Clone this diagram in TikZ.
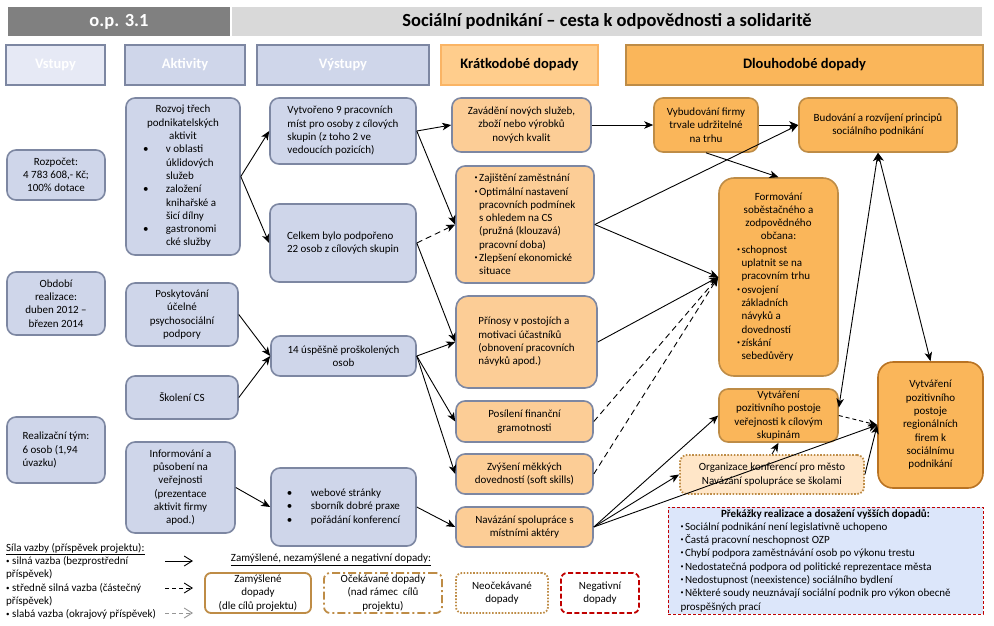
\documentclass[tikz,border=0pt]{standalone}
\usepackage{fontspec}
\setmainfont{Carlito}
\usetikzlibrary{arrows.meta}
\definecolor{bfill}{RGB}{207,214,234}
\definecolor{bdraw}{RGB}{125,135,162}
\definecolor{hfill}{RGB}{230,233,245}
\definecolor{sfill}{RGB}{252,205,150}
\definecolor{lfill}{RGB}{250,182,90}
\definecolor{ldraw}{RGB}{190,140,70}
\definecolor{fdraw}{RGB}{185,115,35}
\definecolor{ofill}{RGB}{255,230,200}
\definecolor{kfill}{RGB}{255,205,140}
\definecolor{kdraw}{RGB}{250,180,100}
\definecolor{pfill}{RGB}{220,230,250}
\definecolor{pdraw}{RGB}{192,0,0}
\definecolor{gdark}{RGB}{128,128,128}
\definecolor{glight}{RGB}{217,217,217}
\definecolor{lgray}{RGB}{150,150,150}
\newcommand\bx[7]{\node[#1,minimum width={#5-#3},minimum height={#6-#4}] (#2) at ({(#3+#5)/2},{(#4+#6)/2}) {#7};}
\newcommand\smb{\makebox[4.5pt][l]{\raisebox{2pt}{\fontsize{6}{6}\selectfont•}}}
\newcommand\smi{\hspace*{4.5pt}}
\newcommand\lgb{\makebox[6pt][l]{\raisebox{1pt}{\fontsize{7}{7}\selectfont•}}}
\begin{document}
\begin{tikzpicture}[x=1pt,y=-1pt,font=\fontsize{11}{13.3}\selectfont,
  base/.style={inner sep=1pt,align=center},
  hdr/.style={base,line width=1.6pt,font=\bfseries\fontsize{14.5}{17}\selectfont},
  bbox/.style={base,draw=bdraw,fill=bfill,line width=1.6pt,rounded corners=9pt},
  sbox/.style={base,draw=bdraw,fill=sfill,line width=1.6pt,rounded corners=9pt},
  lbox/.style={base,draw=ldraw,fill=lfill,line width=1.6pt,rounded corners=9pt},
  obox/.style={base,draw=ldraw,fill=ofill,line width=1.8pt,rounded corners=7pt,dash pattern=on 1.6pt off 1.6pt},
  pbox/.style={base,draw=pdraw,fill=pfill,line width=0.9pt,dash pattern=on 3pt off 2pt},
  lgbox/.style={base,draw=ldraw,fill=white,line width=1.8pt,rounded corners=6pt},
  conn/.style={line width=0.9pt,-{Stealth[length=9pt,width=7.5pt,inset=2.5pt]}},
  dconn/.style={conn,dash pattern=on 6pt off 4pt},
  biconn/.style={line width=0.9pt,{Stealth[length=9pt,width=7.5pt,inset=2.5pt]}-{Stealth[length=9pt,width=7.5pt,inset=2.5pt]}},
  legarr/.style={line width=0.9pt,-{Straight Barb[length=8pt,width=10pt]}}]
\useasboundingbox (0,0) rectangle (994,625);
% title band
\bx{inner sep=0,fill=gdark,text=white,font=\bfseries\fontsize{18.5}{20}\selectfont}{op}{8}{7}{230}{36}{o.p. 3.1}
\bx{inner sep=0,fill=glight,font=\bfseries\fontsize{18.5}{20}\selectfont}{title}{232}{7}{982}{36}{Sociální podnikání – cesta k odpovědnosti a solidaritě}
% column headers
\bx{hdr,draw=bdraw,fill=hfill,text=white}{hvst}{6}{45}{105}{85}{Vstupy}
\bx{hdr,draw=bdraw,fill=bfill,text=white}{hakt}{125}{45}{245}{85}{Aktivity}
\bx{hdr,draw=bdraw,fill=bfill,text=white}{hvys}{257}{45}{429}{85}{Výstupy}
\bx{hdr,draw=kdraw,fill=kfill}{hkrat}{441}{45}{598}{85}{Krátkodobé dopady}
\bx{hdr,draw=ldraw,fill=lfill}{hdlou}{626}{45}{983}{85}{Dlouhodobé dopady}
% inputs
\bx{bbox}{rozp}{7}{150}{105}{200}{Rozpočet:\\4 783 608,- Kč;\\100\% dotace}
\bx{bbox}{obd}{7}{272}{105}{335}{Období\\realizace:\\duben 2012 –\\březen 2014}
\bx{bbox,align=left}{tym}{7}{417}{105}{483}{Realizační tým:\\6 osob (1,94\\úvazku)}
% activities
\bx{bbox}{rozvoj}{126}{98}{240}{255}{\parbox{80pt}{\centering Rozvoj třech\\podnikatelských\\aktivit\par\raggedright\makebox[23pt][l]{•}v oblasti\\\hspace*{23pt}úklidových\\\hspace*{23pt}služeb\\\makebox[23pt][l]{•}založení\\\hspace*{23pt}knihařské a\\\hspace*{23pt}šicí dílny\\\makebox[23pt][l]{•}gastronomi\\\hspace*{23pt}cké služby}}
\bx{bbox}{posk}{126}{283}{238}{346}{Poskytování\\účelné\\psychosociální\\podpory}
\bx{bbox}{skol}{126}{376}{238}{419}{Školení CS}
\bx{bbox}{info}{126}{442}{235}{533}{Informování a\\působení na\\veřejnosti\\(prezentace\\aktivit firmy\\apod.)}
% outputs
\bx{bbox,align=left}{vytv}{270}{98}{416}{164}{Vytvořeno 9 pracovních\\míst pro osoby z cílových\\skupin (z toho 2 ve\\vedoucích pozicích)}
\bx{bbox,align=left}{celk}{270}{204}{416}{282}{Celkem bylo podpořeno\\22 osob z cílových skupin}
\bx{bbox}{skol14}{271}{336}{416}{376}{14 úspěšně proškolených\\osob}
\bx{bbox,align=left}{web}{271}{468}{416}{546}{\makebox[24pt][l]{•}webové stránky\\\makebox[24pt][l]{•}sborník dobré praxe\\\makebox[24pt][l]{•}pořádání konferencí}
% short-term
\bx{sbox}{zav}{452}{98}{591}{152}{Zavádění nových služeb,\\zboží nebo výrobků\\nových kvalit}
\bx{sbox,align=left}{zaj}{456}{166}{594}{283}{\smb Zajištění zaměstnání\\\smb Optimální nastavení\\\smi pracovních podmínek\\\smi s ohledem na CS\\\smi (pružná (klouzavá)\\\smi pracovní doba)\\\smb Zlepšení ekonomické\\\smi situace}
\bx{sbox,align=left,rounded corners=12pt}{prin}{456}{296}{597}{388}{Přínosy v postojích a\\motivaci účastníků\\(obnovení pracovních\\návyků apod.)}
\bx{sbox}{posil}{456}{401}{593}{442}{Posílení finanční\\gramotnosti}
\bx{sbox}{zvys}{456}{454}{593}{494}{Zvýšení měkkých\\dovedností (soft skills)}
\bx{sbox}{nav}{456}{507}{593}{547}{Navázání spolupráce s\\místními aktéry}
% long-term
\bx{lbox}{vybud}{654}{98}{758}{152}{Vybudování firmy\\trvale udržitelné\\na trhu}
\bx{lbox}{budov}{799}{98}{957}{152}{Budování a rozvíjení principů\\sociálního podnikání}
\bx{lbox,rounded corners=15pt}{form}{719}{178}{838}{376}{\parbox{83pt}{\centering Formování\\soběstačného a\\zodpovědného\\občana:\par\raggedright\smb schopnost\\\smi uplatnit se na\\\smi pracovním trhu\\\smb osvojení\\\smi základních\\\smi návyků a\\\smi dovedností\\\smb získání\\\smi sebedůvěry}}
\bx{lbox}{verej}{719}{389}{838}{442}{Vytváření\\pozitivního postoje\\veřejnosti k cílovým\\skupinám}
\bx{lbox,draw=fdraw,rounded corners=15pt}{firmy}{878}{362}{983}{488}{Vytváření\\pozitivního\\postoje\\regionálních\\firem k\\sociálnímu\\podnikání}
\bx{obox}{org}{680}{455}{864}{494}{Organizace konferencí pro město\\Navázání spolupráce se školami}
\bx{pbox}{prek}{668}{507}{983}{614}{\parbox{290pt}{\centering\bfseries Překážky realizace a dosažení vyšších dopadů:\par\raggedright\mdseries\smb Sociální podnikání není legislativně uchopeno\\\smb Častá pracovní neschopnost OZP\\\smb Chybí podpora zaměstnávání osob po výkonu trestu\\\smb Nedostatečná podpora od politické reprezentace města\\\smb Nedostupnost (neexistence) sociálního bydlení\\\smb Některé soudy neuznávají sociální podnik pro výkon obecně\\prospěšných prací}}
% legend
\node[anchor=north west,align=left,inner sep=0] (leg) at (6,543) {\underline{Síla vazby (příspěvek projektu):}\\\lgb silná vazba (bezprostřední\\příspěvek)\\\lgb středně silná vazba (částečný\\příspěvek)\\\lgb slabá vazba (okrajový příspěvek)};
\coordinate (l1a) at (165,561); \coordinate (l1b) at (193,561);
\coordinate (l2a) at (165,588); \coordinate (l2b) at (193,588);
\coordinate (l3a) at (165,613); \coordinate (l3b) at (193,613);
\draw[legarr] (l1a) -- (l1b);
\draw[legarr,dash pattern=on 4pt off 3pt] (l2a) -- (l2b);
\draw[legarr,lgray,dash pattern=on 4pt off 3pt] (l3a) -- (l3b);
\node[inner sep=0] (legt) at (331,560) {\underline{Zamýšlené, nezamýšlené a negativní dopady:}};
\bx{lgbox}{z1}{205}{573}{311}{613}{Zamýšlené\\dopady\\(dle cílů projektu)}
\bx{lgbox,dash pattern=on 8pt off 3pt on 2pt off 3pt}{z2}{324}{573}{442}{613}{Očekávané dopady\\(nad rámec\ \ cílů\\projektu)}
\bx{lgbox,dash pattern=on 1.6pt off 1.6pt}{z3}{456}{573}{548}{613}{Neočekávané\\dopady}
\bx{lgbox,draw=pdraw,dash pattern=on 5pt off 2.5pt}{z4}{561}{573}{639}{613}{Negativní\\dopady}
% connectors
\draw[conn] (rozvoj.east) -- (vytv.west);
\draw[conn] (rozvoj.east) -- (celk.west);
\draw[conn] (vytv.east) -- (zav.west);
\draw[conn] (vytv.east) -- (zaj.west);
\draw[dconn] (celk.east) -- (zaj.west);
\draw[conn] (celk.east) -- (prin.west);
\draw[conn] (posk.east) -- (skol14.west);
\draw[conn] (skol.east) -- (skol14.west);
\draw[conn] (skol14.east) -- (prin.west);
\draw[conn] (skol14.east) -- (posil.west);
\draw[conn] (skol14.east) -- (zvys.west);
\draw[conn] (info.east) -- (web.west);
\draw[conn] (web.east) -- (nav.west);
\draw[conn] (zav.east) -- (vybud.west);
\draw[conn] (vybud.east) -- (budov.west);
\draw[conn] (vybud.south) -- (form.north);
\draw[conn] (zaj.east) -- (budov.west);
\draw[conn] (zaj.east) -- (form.west);
\draw[conn] (prin.east) -- (form.west);
\draw[dconn] (posil.east) -- (form.west);
\draw[dconn] (zvys.east) -- (form.west);
\draw[conn] (nav.east) -- (verej.west);
\draw[conn] (nav.east) -- (org.west);
\draw[conn] (nav.east) -- (firmy.west);
\draw[conn] (org.north) -- (verej.south);
\draw[conn] (org.east) -- (firmy.west);
\draw[conn,dash pattern=on 4pt off 3pt] (verej.east) -- (firmy.west);
\draw[biconn] (budov.south) -- ([yshift=8pt]verej.east);
\draw[biconn] (budov.south) -- (firmy.north);
\end{tikzpicture}
\end{document}
